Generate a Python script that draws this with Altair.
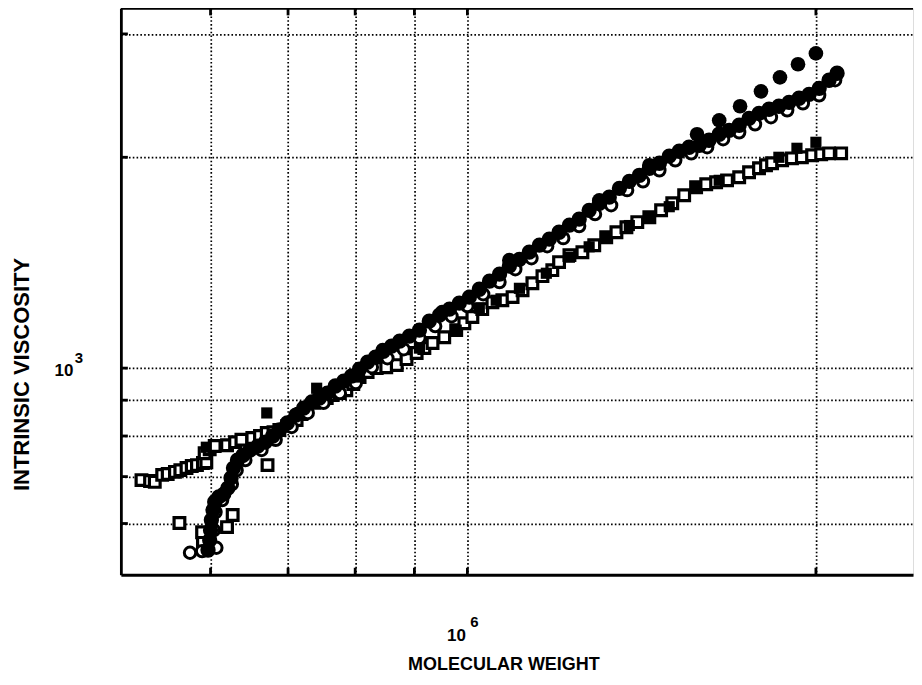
import altair as alt
import pandas as pd

# ---------------- data ----------------
# filled circles (dense upper band)
fc_mw = [597000, 599000, 600000, 601000, 603000, 605000, 610000, 616000, 621000, 625000,
         628000, 633000, 640000, 649000, 659000, 669000, 679000, 688000, 699000, 711000,
         722000, 734000, 745000, 757000, 769000, 782000, 794000, 807000, 820000, 833000,
         846000, 860000, 874000, 891000, 909000, 927000, 946000, 965000, 984000, 1004000,
         1024000, 1045000, 1066000, 1087000, 1109000, 1131000, 1154000, 1177000, 1200000, 1225000,
         1249000, 1274000, 1300000, 1326000, 1353000, 1380000, 1408000, 1436000, 1465000, 1494000,
         1524000, 1554000, 1586000, 1617000, 1650000, 1683000, 1717000, 1751000, 1786000, 1822000,
         1858000, 1896000, 1934000, 1973000, 2013000, 2053000, 2086000]
fc_iv = [550, 568, 587, 607, 627, 644, 655, 661, 674, 697,
         720, 739, 751, 764, 774, 784, 800, 816, 835, 857,
         877, 895, 906, 921, 943, 958, 974, 997, 1020, 1037,
         1057, 1075, 1093, 1111, 1133, 1167, 1190, 1214, 1238, 1263,
         1296, 1331, 1362, 1398, 1430, 1464, 1498, 1528, 1563, 1600,
         1632, 1680, 1719, 1754, 1806, 1848, 1885, 1929, 1961, 2007,
         2040, 2067, 2080, 2115, 2157, 2185, 2222, 2273, 2311, 2342,
         2365, 2396, 2428, 2460, 2509, 2576, 2636]

# open circles
oc_mw = [576000, 590000, 607000, 604000, 606000, 614000, 626000, 632000, 643000, 664000,
         683000, 705000, 728000, 751000, 776000, 801000, 827000, 853000, 881000, 909000,
         938000, 969000, 1000000, 1032000, 1066000, 1100000, 1136000, 1172000, 1210000, 1249000,
         1289000, 1331000, 1374000, 1418000, 1465000, 1512000, 1561000, 1611000, 1663000, 1717000,
         1772000, 1829000, 1889000, 1949000, 2013000, 2078000]
oc_iv = [545, 548, 554, 587, 623, 648, 683, 715, 739, 764,
         790, 824, 863, 892, 921, 952, 1003, 1033, 1064, 1104,
         1148, 1186, 1226, 1275, 1327, 1384, 1435, 1493, 1533, 1595,
         1659, 1708, 1795, 1848, 1916, 1980, 2026, 2067, 2122, 2171,
         2229, 2281, 2334, 2388, 2452, 2576]

# large filled circles
bc_mw = [845000, 951000, 1087000, 1300000, 1436000, 1579000, 1650000, 1720000, 1793000, 1862000, 1930000, 2000000]
bc_iv = [1061, 1202, 1426, 1736, 1948, 2157, 2258, 2365, 2484, 2601, 2715, 2814]

# open squares (lower band)
os_mw = [523000, 532000, 537000, 545000, 551000, 559000, 565000, 572000, 578000, 584000,
         591000, 595000, 593000, 599000, 605000, 620000, 630000, 638000, 652000, 662000,
         671000, 680000, 688000, 699000, 712000, 719000, 726000, 737000, 745000, 756000,
         765000, 776000, 786000, 797000, 807000, 820000, 835000, 851000, 869000, 886000,
         904000, 918000, 933000, 955000, 978000, 994000, 1010000, 1030000, 1051000, 1072000,
         1094000, 1116000, 1138000, 1161000, 1184000, 1200000, 1225000, 1257000, 1287000, 1318000,
         1345000, 1372000, 1402000, 1436000, 1470000, 1503000, 1539000, 1576000, 1608000, 1640000,
         1676000, 1717000, 1751000, 1786000, 1811000, 1833000, 1870000, 1907000, 1945000, 1985000,
         2021000, 2053000, 2103000,
         564000, 590000, 620000, 627000, 591000, 672000]
os_iv = [692, 690, 688, 704, 706, 711, 715, 720, 725, 727,
         732, 734, 756, 766, 774, 776, 784, 790, 795, 800,
         808, 810, 816, 827, 843, 860, 877, 892, 900, 906,
         915, 921, 930, 949, 971, 987, 1000, 1003, 1010, 1030,
         1051, 1068, 1086, 1107, 1133, 1159, 1183, 1214, 1242, 1250,
         1263, 1292, 1322, 1353, 1380, 1417, 1450, 1464, 1498, 1538,
         1563, 1589, 1616, 1642, 1680, 1719, 1765, 1812, 1830, 1842,
         1854, 1873, 1904, 1929, 1948, 1961, 1980, 1993, 2000, 2013,
         2020, 2026, 2026,
         601, 583, 593, 617, 563, 727]

# filled squares
fs_mw = [595000, 671000, 741000, 807000, 909000, 978000, 1024000, 1059000, 1109000, 1170000,
         1225000, 1274000, 1318000, 1380000, 1436000, 1494000, 1576000, 1650000, 1858000, 1926000,
         2000000]
fs_iv = [771, 863, 936, 971, 1068, 1133, 1218, 1250, 1300, 1366,
         1440, 1490, 1538, 1598, 1642, 1700, 1812, 1854, 2000, 2060,
         2101]

x_grid = [600000, 700000, 800000, 900000, 1000000, 2000000]
y_grid = [600, 700, 800, 900, 1000, 2000, 3000]
x_domain = [502000, 2426000]
y_domain = [507, 3263]

W, H = 793, 567
FONT = "Liberation Sans"

xs = alt.Scale(type="log", domain=x_domain, nice=False)
ys = alt.Scale(type="log", domain=y_domain, nice=False)

def df(mw, iv):
    return pd.DataFrame({"mw": mw, "iv": iv})

grid_style = dict(grid=True, gridColor="black", gridDash=[1.6, 2.2], gridWidth=1.7,
                  gridOpacity=1, domain=True, domainColor="black", domainWidth=2.8,
                  ticks=False, labels=False, titleFont=FONT, titleFontWeight="bold",
                  titleColor="black", titleAlign="center", titleBaseline="middle")

x_axis = alt.Axis(values=x_grid, title="MOLECULAR WEIGHT", titleFontSize=18,
                  titleX=383, titleY=90, **grid_style)
y_axis = alt.Axis(values=y_grid, title="INTRINSIC VISCOSITY", titleFontSize=22,
                  titleAngle=270, titleX=-99, titleY=366, **grid_style)

def X():
    return alt.X("mw:Q", scale=xs, axis=x_axis)

def Y():
    return alt.Y("iv:Q", scale=ys, axis=y_axis)

os_layer = alt.Chart(df(os_mw, os_iv)).mark_point(
    shape="square", filled=False, fill="white", fillOpacity=1, stroke="black",
    strokeWidth=3.2, size=115, opacity=1).encode(x=X(), y=Y())
oc_layer = alt.Chart(df(oc_mw, oc_iv)).mark_point(
    shape="circle", filled=False, fill="white", fillOpacity=1, stroke="black",
    strokeWidth=3, size=130, opacity=1).encode(x=X(), y=Y())
fc_layer = alt.Chart(df(fc_mw, fc_iv)).mark_point(
    shape="circle", filled=True, color="black", size=235, opacity=1).encode(x=X(), y=Y())
bc_layer = alt.Chart(df(bc_mw, bc_iv)).mark_point(
    shape="circle", filled=True, color="black", size=215, opacity=1).encode(x=X(), y=Y())
fs_layer = alt.Chart(df(fs_mw, fs_iv)).mark_point(
    shape="square", filled=True, color="black", size=125, opacity=1).encode(x=X(), y=Y())

one = alt.Data(values=[{"a": 1}])
top_border = alt.Chart(one).mark_rule(color="black", strokeWidth=2.8).encode(
    x=alt.value(0), x2=alt.value(W), y=alt.value(0))

xt = pd.DataFrame({"mw": x_grid})
yt = pd.DataFrame({"iv": y_grid})
bottom_ticks = alt.Chart(xt).mark_rule(color="black", strokeWidth=2.8).encode(
    x=X(), y=alt.value(H - 7), y2=alt.value(H))
top_ticks = alt.Chart(xt).mark_rule(color="black", strokeWidth=2.8).encode(
    x=X(), y=alt.value(0), y2=alt.value(7))
left_ticks = alt.Chart(yt).mark_rule(color="black", strokeWidth=2.8).encode(
    y=Y(), x=alt.value(0), x2=alt.value(7))

lab_y = pd.DataFrame({"iv": [1000]})
lab_x = pd.DataFrame({"mw": [1000000]})
txt = dict(font=FONT, fontWeight="bold", color="black", align="center", baseline="middle")
y10 = alt.Chart(lab_y).mark_text(fontSize=17, dy=3, **txt).encode(
    y=Y(), x=alt.value(-57), text=alt.value("10"))
y3 = alt.Chart(lab_y).mark_text(fontSize=15, dy=-10, **txt).encode(
    y=Y(), x=alt.value(-42), text=alt.value("3"))
x10 = alt.Chart(lab_x).mark_text(fontSize=17, dx=-11, **txt).encode(
    x=X(), y=alt.value(628), text=alt.value("10"))
x6 = alt.Chart(lab_x).mark_text(fontSize=15, dx=7, **txt).encode(
    x=X(), y=alt.value(614), text=alt.value("6"))

chart = alt.layer(
    os_layer, oc_layer, fc_layer, bc_layer, fs_layer,
    top_border, bottom_ticks, top_ticks, left_ticks,
    y10, y3, x10, x6,
).properties(
    width=W, height=H,
    autosize=alt.AutoSizeParams(type="none"),
    padding={"left": 113, "top": 0, "right": 1, "bottom": 102},
).configure_view(stroke=None).configure(background="white")

chart.save("out.html", embed_options={"renderer": "svg", "actions": False})
